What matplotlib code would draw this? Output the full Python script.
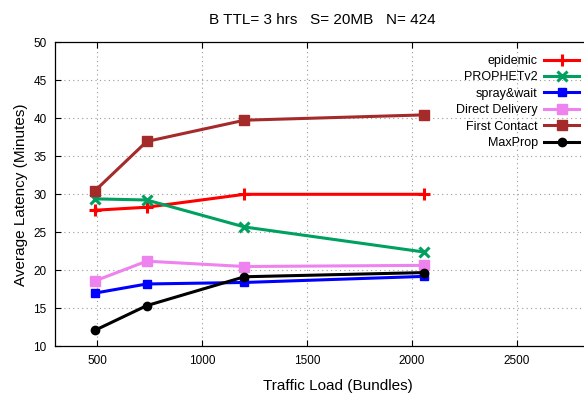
import matplotlib
matplotlib.use('Agg')
import matplotlib.pyplot as plt

plt.rcParams['font.family'] = ['Liberation Sans', 'DejaVu Sans']

# traffic load (bundles)
loads = [490, 737, 1203, 2060]

epidemic = [27.9, 28.3, 30.0, 30.0]
prophet = [29.4, 29.25, 25.7, 22.4]
spray_wait = [17.0, 18.2, 18.4, 19.2]
direct = [18.6, 21.2, 20.5, 20.65]
first_contact = [30.45, 36.95, 39.75, 40.45]
maxprop = [12.1, 15.35, 19.15, 19.7]

series = [
    ('epidemic', epidemic, '#ff0000', '+', 9),
    ('PROPHETv2', prophet, '#00a060', 'x', 7),
    ('spray&wait', spray_wait, '#0000ff', 's', 6),
    ('Direct Delivery', direct, '#ee82ee', 's', 7),
    ('First Contact', first_contact, '#a52a2a', 's', 7),
    ('MaxProp', maxprop, '#000000', 'o', 6),
]

fig = plt.figure(figsize=(5.84, 3.98), dpi=100)
# right edge of the axes falls outside the picture, as in the original
ax = fig.add_axes((55 / 584, 51.7 / 398, 566.6 / 584, 304 / 398))

for name, vals, col, mk, ms in series:
    ax.plot(loads, vals, color=col, marker=mk, markersize=ms, lw=2.2,
            mew=2.2 if mk in '+x' else 1, label=name)

ax.set_xlim(300, 3000)
ax.set_ylim(10, 50)
ax.set_xticks([500, 1000, 1500, 2000, 2500])
ax.set_yticks(range(10, 51, 5))
ax.tick_params(direction='in', top=True, right=True, labelsize=8.5, length=4, pad=6)
ax.grid(True, linestyle=(0, (1, 3)), color='#999999', lw=0.8)
for s in ax.spines.values():
    s.set_linewidth(0.9)

ax.set_xlabel('Traffic Load (Bundles)', fontsize=11, labelpad=9)
ax.set_ylabel('Average Latency (Minutes)', fontsize=11, labelpad=4)

fig.text(322 / 584, 1 - 20 / 398, 'B TTL= 3 hrs   S= 20MB   N= 424',
         ha='center', va='center', fontsize=11)

leg = ax.legend(loc='upper right', bbox_to_anchor=(579 / 584, 1 - 55 / 398),
                bbox_transform=fig.transFigure, frameon=False, markerfirst=False,
                fontsize=9, handlelength=2.8, handletextpad=0.5,
                labelspacing=0.35, borderaxespad=0, borderpad=0)
for col in leg._legend_handle_box.get_children():
    col.align = 'right'

fig.savefig('out.png', dpi=100)
